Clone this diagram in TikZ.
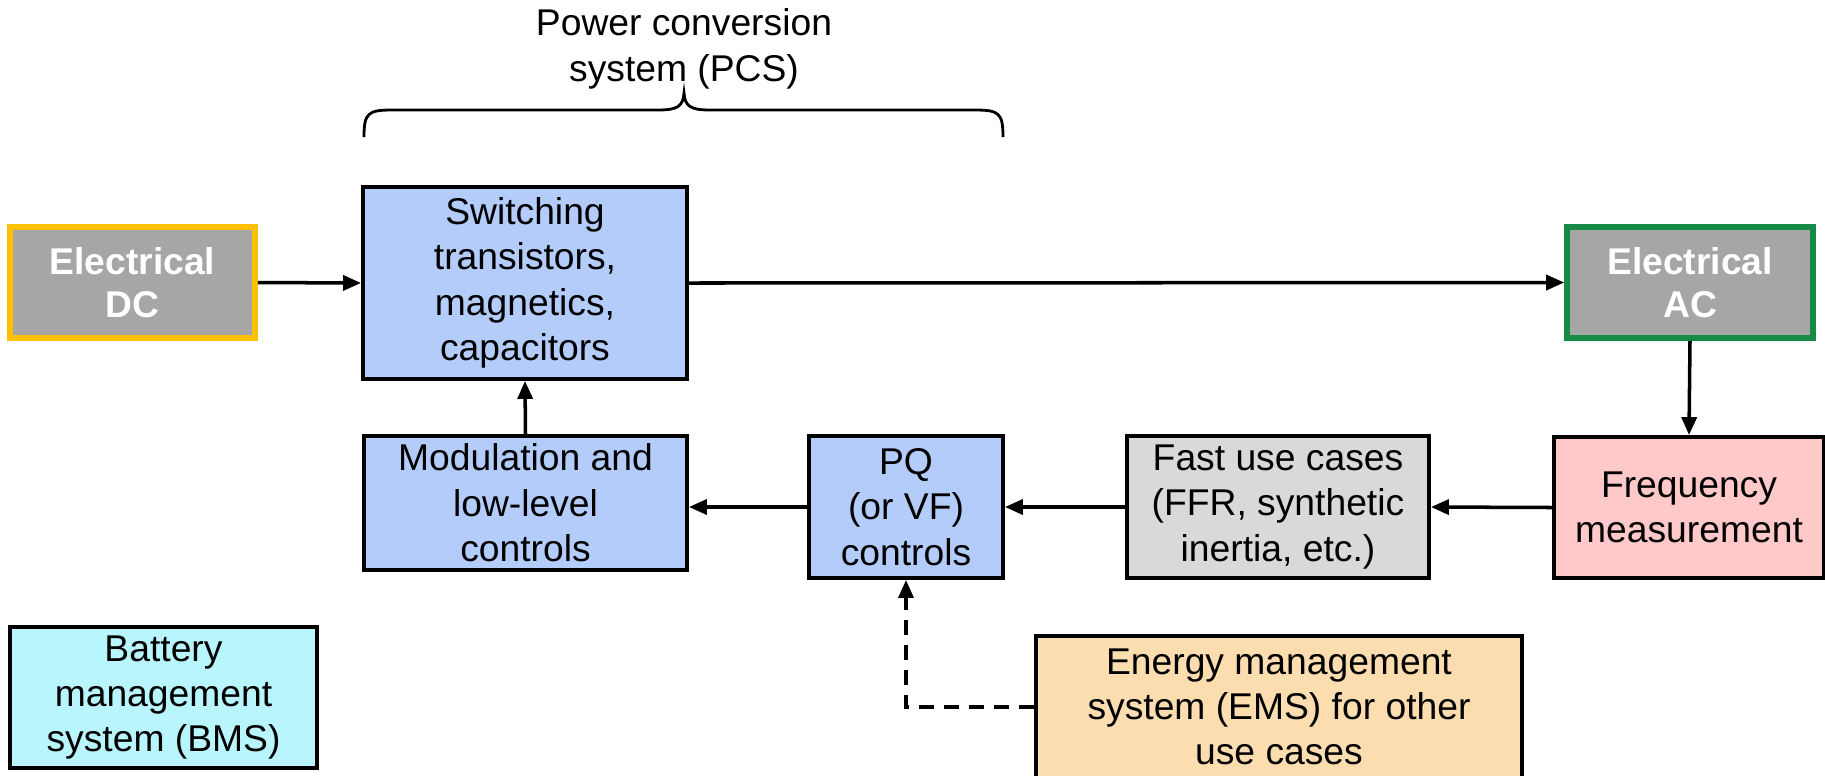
\documentclass[tikz,border=0pt]{standalone}
\usepackage{fontspec}
\setmainfont{Liberation Sans}
\usetikzlibrary{arrows.meta}

\definecolor{pcsblue}{HTML}{B4CCFA}
\definecolor{dcgold}{HTML}{FFC000}
\definecolor{acgreen}{HTML}{168A47}
\definecolor{elecgray}{HTML}{A6A6A6}
\definecolor{freqpink}{HTML}{FFC9C9}
\definecolor{fastgray}{HTML}{D9D9D9}
\definecolor{bmscyan}{HTML}{B9F5FD}
\definecolor{emsorange}{HTML}{FCDDB0}

\begin{document}
\begin{tikzpicture}[
      x=0.1mm, y=-0.1mm,
      >={Triangle[length=1.8mm,width=1.5mm]},
      block/.style={draw, line width=1.1pt, rectangle, align=center, inner sep=0pt},
      elec/.style={block, line width=1.6pt, fill=elecgray, text=white, font=\fontsize{10.6}{12.4}\selectfont\bfseries},
      link/.style={->, line width=1pt},
      every node/.style={font=\fontsize{10.6}{12.9}\selectfont}
    ]
    \useasboundingbox (0,0) rectangle (1825,775);

    % Sources and grid side
    \node[elec, draw=dcgold, minimum width=24.5mm, minimum height=11.1mm] (dc) at (132.5,282.5) {Electrical\\DC};
    \node[elec, draw=acgreen, minimum width=24.6mm, minimum height=11.1mm] (ac) at (1690,282.5) {Electrical\\AC};

    % Power conversion system
    \node[block, fill=pcsblue, minimum width=32.4mm, minimum height=19.2mm] (switch) at (525,283) {Switching\\transistors,\\magnetics,\\capacitors};
    \node[block, fill=pcsblue, minimum width=32.3mm, minimum height=13.4mm] (modul) at (525.5,503) {Modulation and\\low-level\\controls};
    \node[block, fill=pcsblue, minimum width=19.4mm, minimum height=14.2mm] (pq) at (906,507) {PQ\\(or VF)\\controls};

    % Control chain
    \node[block, fill=fastgray, minimum width=30.2mm, minimum height=14.2mm] (fast) at (1278,507) {Fast use cases\\(FFR, synthetic\\inertia, etc.)};
    \node[block, fill=freqpink, minimum width=27mm, minimum height=14.1mm] (freq) at (1689,507.5) {Frequency\\measurement};
    \node[block, fill=bmscyan, minimum width=30.7mm, minimum height=14.1mm] (bms) at (163.5,697.5) {Battery\\management\\system (BMS)};
    \node[block, fill=emsorange, minimum width=48.6mm, minimum height=14.2mm] (ems) at (1279,707) {Energy management\\system (EMS) for other\\use cases};

    % Brace and label
    \node[align=center] (pcs) at (684,49) {Power conversion\\system (PCS)};
    \draw[line width=0.8pt] (364,137) .. controls (364,113) and (368,110) .. (392,110)
      -- (658,110) .. controls (678,110) and (683,106) .. (684,93)
      .. controls (685,106) and (690,110) .. (710,110)
      -- (975,110) .. controls (999,110) and (1003,113) .. (1003,137);

    % Power flow
    \draw[link] (dc.east) -- (switch.west);
    \draw[link] (switch.east) -- (ac.west);
    \draw[link] (ac.south) -- (freq.north);

    % Control flow
    \draw[link] (freq.west) -- (fast.east);
    \draw[link] (fast.west) -- (pq.east);
    \draw[link] (pq.west) -- (pq.west -| modul.east);
    \draw[link] (modul.north) -- (switch.south);
    \draw[link, dash pattern=on 1.5mm off 1mm] (ems.west) -| (pq.south);

  \end{tikzpicture}
\end{document}
